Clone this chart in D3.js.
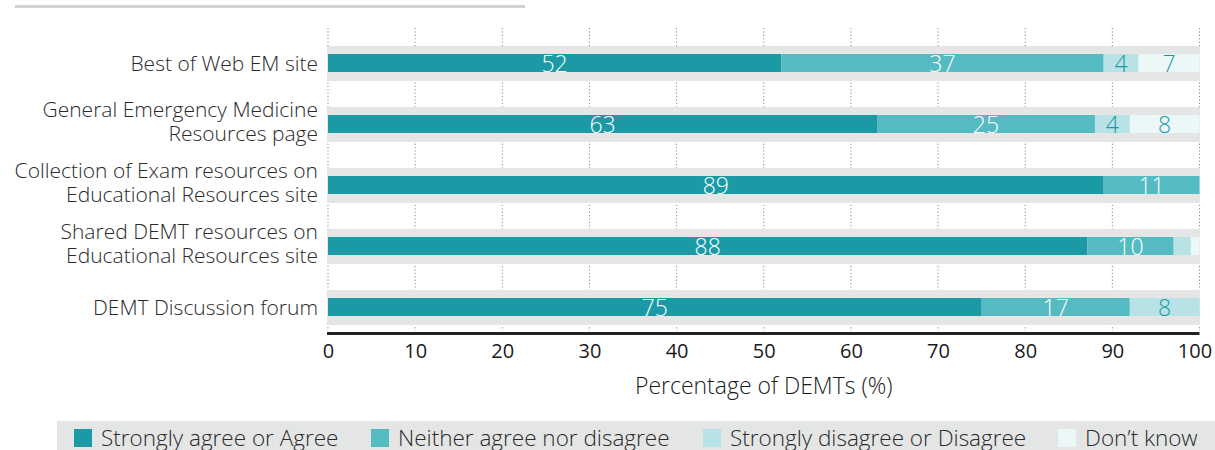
<!DOCTYPE html>
<html><head><meta charset="utf-8">
<script src="https://cdn.jsdelivr.net/npm/d3@7"></script>
<style>
html,body{margin:0;padding:0;background:#fff;}
svg{display:block;font-family:"Open Sans",sans-serif;font-weight:300;}
</style></head>
<body><svg id="c" width="1215" height="450"></svg>
<script>
const categories = [
  ["Best of Web EM site"],
  ["General Emergency Medicine","Resources page"],
  ["Collection of Exam resources on","Educational Resources site"],
  ["Shared DEMT resources on","Educational Resources site"],
  ["DEMT Discussion forum"]
];
const seriesNames = ["Strongly agree or Agree","Neither agree nor disagree","Strongly disagree or Disagree","Don\u2019t know"];
const agree    = [52, 63, 89, 88, 75];
const neither  = [37, 25, 11, 10, 17];
const disagree = [4, 4, 0, 2, 8];
const dontKnow = [7, 8, 0, 1, 0];
const xTicks = [0,10,20,30,40,50,60,70,80,90,100];
const axisTitle = "Percentage of DEMTs (%)";
const colors = ["#1b9aa6","#55bbc2","#b9e2e6","#ecf7f8"];
const labelColors = ["#ffffff","#ffffff","#1b9aa6","#1b9aa6"];

const svg = d3.select("#c");
const x = d3.scaleLinear().domain([0,100]).range([328,1199.5]);
const y = d3.scaleBand().domain(d3.range(categories.length)).range([46,325]).paddingInner(26/61).paddingOuter(0);

// top decorative line
svg.append("line").attr("x1",15).attr("x2",525).attr("y1",6.5).attr("y2",6.5)
  .attr("stroke","#d3d3d3").attr("stroke-width",3);

// gridlines
svg.append("g").selectAll("line").data(xTicks).join("line")
  .attr("x1",d=>x(d)).attr("x2",d=>x(d)).attr("y1",28).attr("y2",331)
  .attr("stroke","#8a8a8a").attr("stroke-width",1).attr("stroke-dasharray","1.2,2.2");

// grey bands
svg.append("g").selectAll("rect").data(d3.range(categories.length)).join("rect")
  .attr("x",x(0)-1).attr("width",x(100)-x(0)+1.5).attr("y",d=>y(d)).attr("height",y.bandwidth())
  .attr("fill","#e4e5e5");

const series = [agree,neither,disagree,dontKnow];
const rows = categories.map((c,i)=>{
  const vals = series.map(s=>s[i]);
  const tot = d3.sum(vals);
  let acc = 0;
  return vals.map((v,j)=>{ const s0=acc/tot*100; acc+=v; return {i,j,v,x0:s0,x1:acc/tot*100}; });
});
const segs = rows.flat().filter(d=>d.v>0);
const barH = 18, barOff = 8;
svg.append("g").selectAll("rect").data(segs).join("rect")
  .attr("x",d=>x(d.x0)).attr("width",d=>x(d.x1)-x(d.x0))
  .attr("y",d=>y(d.i)+barOff).attr("height",barH).attr("fill",d=>colors[d.j]);

svg.append("g").selectAll("text").data(segs.filter(d=>d.v>=3)).join("text")
  .attr("x",d=>(x(d.x0)+x(d.x1))/2).attr("y",d=>y(d.i)+barOff+barH/2+8.5)
  .attr("text-anchor","middle").attr("font-size",23).attr("fill",d=>labelColors[d.j])
  .text(d=>d.v);

// category labels
const lab = svg.append("g");
categories.forEach((lines,i)=>{
  const cy = y(i)+y.bandwidth()/2;
  const lh = 23.5;
  const start = lines.length===1 ? cy : cy-3-lh/2;
  const t = lab.append("text").attr("text-anchor","end").attr("font-size",21).attr("fill","#2a2a2a");
  lines.forEach((l,k)=>{
    t.append("tspan").attr("x",318).attr("y",start+k*lh+7.5).text(l);
  });
});

// x axis
const xa = svg.append("g").attr("transform","translate(0,333)")
  .call(d3.axisBottom(x).tickValues(xTicks).tickSize(0).tickPadding(11));
xa.select(".domain").remove();
xa.selectAll("text").attr("font-size",20).attr("fill","#1a1a1a").attr("font-family","Open Sans").attr("font-weight",400)
  .attr("dx",d=>d===100?-5:0);
svg.append("line").attr("x1",x(0)-1).attr("x2",x(100)).attr("y1",333.5).attr("y2",333.5)
  .attr("stroke","#222").attr("stroke-width",3);

svg.append("text").attr("x",(x(0)+x(100))/2).attr("y",394).attr("text-anchor","middle")
  .attr("font-size",23).attr("fill","#1a1a1a").text(axisTitle);

// legend
svg.append("rect").attr("x",57).attr("y",421).attr("width",1158).attr("height",29).attr("fill","#e4e5e5");
const legX = [74, 371, 703, 1058];
const lg = svg.append("g").selectAll("g").data(seriesNames).join("g")
  .attr("transform",(d,i)=>`translate(${legX[i]},429)`);
lg.append("rect").attr("width",18).attr("height",18).attr("fill",(d,i)=>colors[i]);
lg.append("text").attr("x",27).attr("y",17).attr("font-size",22.5).attr("fill","#2a2a2a").text(d=>d);
</script></body></html>
